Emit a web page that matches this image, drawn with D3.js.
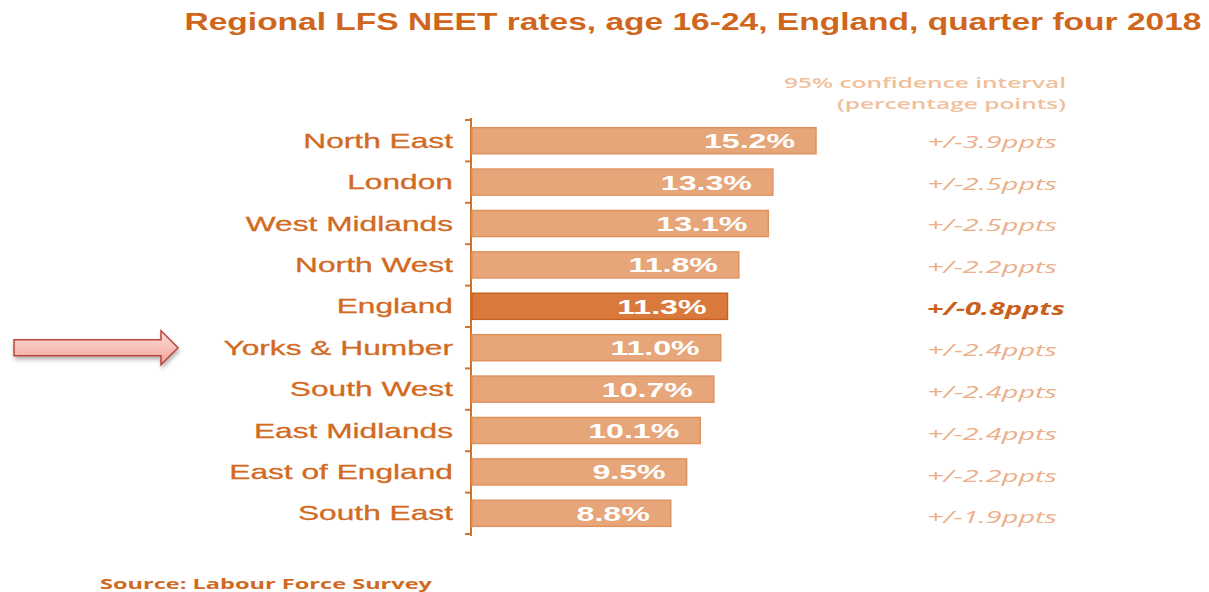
<!DOCTYPE html>
<html><head><meta charset="utf-8">
<script src="https://cdn.jsdelivr.net/npm/d3@7"></script>
<style>html,body{margin:0;padding:0;background:#fff;}svg{display:block;}</style>
</head><body>
<svg id="chart" width="1209" height="592"></svg>
<script>
const categories = ["North East","London","West Midlands","North West","England","Yorks & Humber","South West","East Midlands","East of England","South East"];
const rates = [15.2,13.3,13.1,11.8,11.3,11.0,10.7,10.1,9.5,8.8];
const ciLabels = ["+/-3.9ppts","+/-2.5ppts","+/-2.5ppts","+/-2.2ppts","+/-0.8ppts","+/-2.4ppts","+/-2.4ppts","+/-2.4ppts","+/-2.2ppts","+/-1.9ppts"];
const highlight = "England";
const arrowTarget = "Yorks & Humber";
const titleText = "Regional LFS NEET rates, age 16-24, England, quarter four 2018";
const ciHeader = ["95% confidence interval","(percentage points)"];
const sourceText = "Source: Labour Force Survey";

const data = categories.map((c,i)=>({cat:c, v:rates[i], ci:ciLabels[i]}));
const svg = d3.select("#chart");

const x = d3.scaleLinear().domain([0, d3.max(rates)]).range([471, 816]);
const y = d3.scaleBand().domain(categories).range([120, 534]).paddingInner(0.37).paddingOuter(0.185);
const yAxisScale = d3.scaleBand().domain(categories).range([120, 534]);
const yCI = d3.scaleBand().domain(categories).range([121, 538]);

// defs
const defs = svg.append("defs");
const grad = defs.append("linearGradient").attr("id","arrowGrad").attr("x1",0).attr("y1",0).attr("x2",0).attr("y2",1);
grad.append("stop").attr("offset","0%").attr("stop-color","#fde0dc");
grad.append("stop").attr("offset","100%").attr("stop-color","#f2a097");
const filt = defs.append("filter").attr("id","shadow").attr("x","-10%").attr("y","-30%").attr("width","130%").attr("height","180%");
filt.append("feDropShadow").attr("dx",1).attr("dy",3).attr("stdDeviation",2).attr("flood-color","#000").attr("flood-opacity",0.3);

function stretched(sel, sx){
  return sel.attr("transform", `scale(${sx},1)`);
}

// title
svg.append("text").attr("x",693).attr("y",30).attr("text-anchor","middle")
  .attr("font-family","Liberation Sans, Arial, sans-serif").attr("font-weight","bold").attr("font-size",23)
  .attr("fill","#d0661c").attr("textLength",1017).attr("lengthAdjust","spacingAndGlyphs").text(titleText);

// CI header
const headerLen = [282, 229];
svg.selectAll("text.cih").data(ciHeader).join("text").attr("class","cih")
  .attr("x",1066).attr("y",(d,i)=>88+i*21).attr("text-anchor","end")
  .attr("font-family","Open Sans, Lato, sans-serif").attr("font-weight",600).attr("font-size",15)
  .attr("textLength",(d,i)=>headerLen[i]).attr("lengthAdjust","spacingAndGlyphs")
  .attr("fill","#f0bf9c").text(d=>d);

// axis
const axisG = svg.append("g").attr("transform","translate(471,0)");
const ticksY = categories.map(c=>yAxisScale(c)).concat([yAxisScale.range()[1]]);
axisG.append("line").attr("x1",0).attr("x2",0).attr("y1",ticksY[0]-2).attr("y2",ticksY[ticksY.length-1]+2)
  .attr("stroke","#d2732e").attr("stroke-width",2);
axisG.selectAll("line.tick").data(ticksY).join("line").attr("class","tick")
  .attr("x1",-6).attr("x2",0).attr("y1",d=>d).attr("y2",d=>d).attr("stroke","#d2732e").attr("stroke-width",2);

// bars
svg.selectAll("rect.bar").data(data).join("rect").attr("class","bar")
  .attr("x",x(0)+1).attr("y",d=>y(d.cat)).attr("width",d=>x(d.v)-x(0)-1).attr("height",y.bandwidth())
  .attr("fill",d=>d.cat===highlight?"#d97a3c":"#e6a679")
  .attr("stroke",d=>d.cat===highlight?"#c9621f":"#de935f").attr("stroke-width",1.5);

// category labels
svg.selectAll("g.cat").data(data).join("g").attr("class","cat")
  .attr("transform",d=>`translate(453,${y(d.cat)+y.bandwidth()/2})`)
  .append("text").attr("text-anchor","end").attr("dy","0.34em")
  .attr("font-family","Liberation Sans, Arial, sans-serif").attr("font-size",21)
  .attr("fill","#d26a22").attr("stroke","#d26a22").attr("stroke-width",0.3)
  .call(stretched, 1.51).text(d=>d.cat);

// value labels
svg.selectAll("g.val").data(data).join("g").attr("class","val")
  .attr("transform",d=>`translate(${x(d.v)-21},${y(d.cat)+y.bandwidth()/2})`)
  .append("text").attr("text-anchor","end").attr("dy","0.36em")
  .attr("font-family","Liberation Sans, Arial, sans-serif").attr("font-weight","bold").attr("font-size",21)
  .attr("fill","#ffffff").call(stretched, 1.53).text(d=>d3.format(".1f")(d.v)+"%");

// CI labels
svg.selectAll("g.ci").data(data).join("g").attr("class","ci")
  .attr("transform",d=>`translate(927,${yCI(d.cat)+yCI.bandwidth()/2})`)
  .append("text").attr("dy","0.36em")
  .attr("font-family","Open Sans, Lato, sans-serif").attr("font-style","italic").attr("font-size",17)
  .attr("font-weight",d=>d.cat===highlight?"bold":"normal")
  .attr("fill",d=>d.cat===highlight?"#c8601c":"#ebb08a").call(stretched, 1.7).text(d=>d.ci);

// arrow pointing to target row
const cy = y(arrowTarget)+y.bandwidth()/2;
const ax0 = 14, axHead = 161, axTip = 178, sh = 8, hh = 17;
const arrowPath = d3.path();
arrowPath.moveTo(ax0, cy-sh); arrowPath.lineTo(axHead, cy-sh); arrowPath.lineTo(axHead, cy-hh);
arrowPath.lineTo(axTip, cy); arrowPath.lineTo(axHead, cy+hh); arrowPath.lineTo(axHead, cy+sh);
arrowPath.lineTo(ax0, cy+sh); arrowPath.closePath();
svg.append("path").attr("d",arrowPath.toString()).attr("fill","url(#arrowGrad)")
  .attr("stroke","#b8473a").attr("stroke-width",1.5).attr("filter","url(#shadow)");

// source
svg.append("text").attr("x",100).attr("y",589)
  .attr("font-family","Open Sans, Lato, sans-serif").attr("font-weight","bold").attr("font-size",15)
  .attr("fill","#cf6a22").attr("textLength",332).attr("lengthAdjust","spacingAndGlyphs").text(sourceText);
</script>
</body></html>
